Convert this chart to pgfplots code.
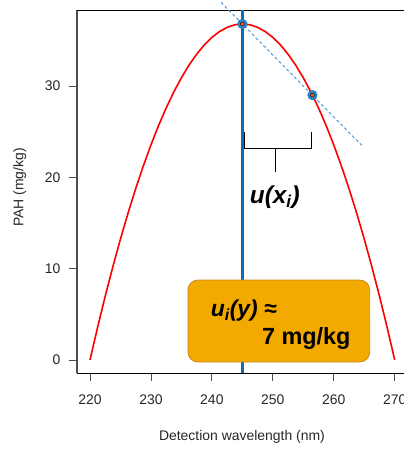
\documentclass[border=0pt]{standalone}
\usepackage{pgfplots}
\pgfplotsset{compat=1.18}
\usepackage{fontspec}
\setmainfont{Liberation Sans}
\definecolor{vline}{HTML}{0A6EBD}
\definecolor{dashblue}{HTML}{3D8FD8}
\definecolor{boxfill}{HTML}{F2A900}
\definecolor{boxedge}{HTML}{C98A1E}
\definecolor{tickgray}{HTML}{4D4D4D}
\definecolor{dotor}{HTML}{E8641E}
\begin{document}
\begin{tikzpicture}
\useasboundingbox (0,0) rectangle (404bp,449bp);
\begin{axis}[
  at={(77bp,76bp)}, anchor=south west,
  scale only axis, width=336bp, height=363bp,
  xmin=217.87, xmax=273, ymin=-1.42, ymax=38.33,
  axis line style={draw=none},
  xtick={220,230,240,250,260,270}, ytick={0,10,20,30},
  tick align=outside, major tick length=8bp,
  tick style={tickgray, line width=0.8bp},
  xtick pos=bottom, ytick pos=left,
  /pgf/number format/assume math mode=true,
  tick label style={font=\fontsize{14}{16}\selectfont, text=black!85},
  xticklabel style={yshift=-10bp},
  yticklabel style={xshift=-5bp},
  label style={font=\fontsize{14}{16}\selectfont, text=black!85},
  xlabel={Detection wavelength (nm)},
  ylabel={PAH (mg/kg)},
  xlabel style={at={(rel axis cs:0.491,-0.176)}, anchor=center},
  ylabel style={at={(rel axis cs:-0.170,0.511)}, anchor=center},
  clip=false,
]
% axis frame: gray left spine, black top and bottom
\draw[tickgray, line width=1.6bp] (rel axis cs:0,0) -- (rel axis cs:0,1);
\draw[black, line width=0.9bp] (rel axis cs:0,1) -- (rel axis cs:1,1);
\draw[black, line width=0.9bp] (rel axis cs:0,0) -- (rel axis cs:1,0);

% response curve
\addplot[red, line width=1.6bp] coordinates {
  (220,0) (221.25,3.59) (222.5,6.99) (223.75,10.21) (225,13.25) (226.25,16.1)
  (227.5,18.77) (228.75,21.25) (230,23.55) (231.25,25.67) (232.5,27.6)
  (233.75,29.35) (235,30.91) (236.25,32.29) (237.5,33.49) (238.75,34.5)
  (240,35.33) (241.25,35.97) (242.5,36.43) (243.75,36.71) (245,36.8)
  (246.25,36.71) (247.5,36.43) (248.75,35.97) (250,35.33) (251.25,34.5)
  (252.5,33.49) (253.75,32.29) (255,30.91) (256.25,29.35) (257.5,27.6)
  (258.75,25.67) (260,23.55) (261.25,21.25) (262.5,18.77) (263.75,16.1)
  (265,13.25) (266.25,10.21) (267.5,6.99) (268.75,3.59) (270,0)
};

% tangent
\addplot[dashblue, line width=0.9bp, dash pattern=on 3bp off 2.5bp] coordinates {(241.5,39.17) (264.6,23.5)};

% selected wavelength
\addplot[vline, line width=3bp] coordinates {(245,-1.42) (245,38.33)};

% bracket u(x_i)
\draw[black, line width=1bp] (axis cs:245.3,24.97) -- (axis cs:245.3,23.2) -- (axis cs:256.3,23.2) -- (axis cs:256.3,24.97);
\draw[black, line width=1bp] (axis cs:250.5,23.2) -- (axis cs:250.5,20.6);

% points
\addplot[only marks, mark=*, mark size=4.8bp, mark options={fill=vline!85, draw=vline}] coordinates {(245,36.8) (256.5,29.01)};
\addplot[only marks, mark=*, mark size=2bp, mark options={fill=dotor, draw=none}] coordinates {(245,36.8) (256.5,29.01)};

\node[anchor=base west, font=\fontsize{24.5}{28}\selectfont\bfseries\itshape, inner sep=0pt] at (axis cs:246.2,17.16) {u(x\textsubscript{i})};

% result box
\draw[fill=boxfill, draw=boxedge, line width=0.8bp, rounded corners=10bp] (axis cs:236.07,8.76) rectangle (axis cs:265.9,-0.22);
\node[anchor=base west, font=\fontsize{23}{26}\selectfont\bfseries\itshape, inner sep=0pt] at (axis cs:239.8,4.74) {u\textsubscript{i}(y) ≈};
\node[anchor=base west, font=\fontsize{23.5}{27}\selectfont\bfseries, inner sep=0pt] at (axis cs:248.2,1.75) {7 mg/kg};
\end{axis}
\end{tikzpicture}
\end{document}
